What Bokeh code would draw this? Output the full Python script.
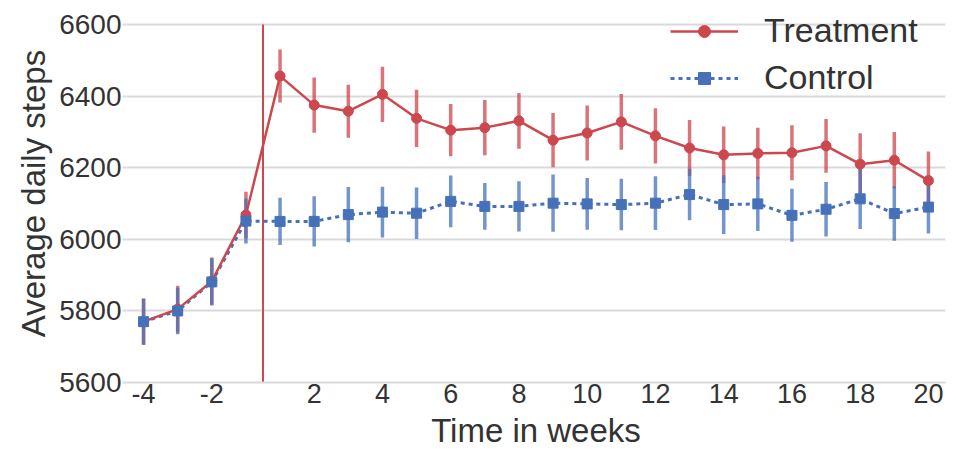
from bokeh.plotting import figure
from bokeh.models import ColumnDataSource, Legend, LegendItem, FixedTicker
from bokeh.embed import file_html
from bokeh.resources import INLINE

# ---- data -------------------------------------------------------------
weeks = [-4, -3, -2, -1, 1, 2, 3, 4, 5, 6, 7, 8, 9, 10, 11, 12, 13, 14, 15, 16, 17, 18, 19, 20]
treatment = [5770, 5805, 5883, 6068, 6456, 6375, 6358, 6405, 6338, 6305, 6312, 6331,
             6277, 6297, 6328, 6289, 6255, 6236, 6240, 6242, 6261, 6210, 6221, 6164]
treatment_err = [65, 65, 66, 65, 74, 77, 74, 77, 80, 73, 77, 78,
                 76, 77, 78, 77, 78, 79, 72, 77, 75, 86, 79, 81]
control = [5770, 5800, 5881, 6051, 6050, 6050, 6069, 6076, 6073, 6106, 6092, 6092,
           6101, 6099, 6097, 6101, 6125, 6097, 6099, 6067, 6084, 6113, 6072, 6090]
control_err = [64, 65, 66, 63, 66, 70, 77, 71, 72, 72, 65, 70,
               80, 72, 72, 75, 72, 82, 76, 74, 76, 84, 76, 74]
tick_weeks = [-4, -2, 2, 4, 6, 8, 10, 12, 14, 16, 18, 20]
y_ticks = [5600, 5800, 6000, 6200, 6400, 6600]

# weeks are equally spaced categories (no week 0)
pos = list(range(len(weeks)))
pos_of = dict(zip(weeks, pos))
intervention = (pos_of[-1] + pos_of[1]) / 2

RED = "#cc474e"
BLUE = "#4671b8"
TEXT = "#333333"
FONT = "Liberation Sans"

src = ColumnDataSource(dict(
    x=pos,
    t=treatment,
    t_lo=[v - e for v, e in zip(treatment, treatment_err)],
    t_hi=[v + e for v, e in zip(treatment, treatment_err)],
    c=control,
    c_lo=[v - e for v, e in zip(control, control_err)],
    c_hi=[v + e for v, e in zip(control, control_err)],
))

# y-range top padded a little so the legend (which sits above the 6600 line) is not clipped
p = figure(width=950, height=451, output_backend="svg", toolbar_location=None,
           x_range=(pos[0] - 0.5, pos[-1] + 0.5), y_range=(y_ticks[0], y_ticks[-1] + 56),
           min_border_left=126, min_border_top=4, min_border_right=5, min_border_bottom=68)
p.outline_line_color = None
p.background_fill_color = "white"

# grid
p.xgrid.grid_line_color = None
p.ygrid.grid_line_color = "#d9d9d9"
p.ygrid.grid_line_width = 2
p.yaxis.ticker = FixedTicker(ticks=y_ticks)

# axes
p.xaxis.ticker = FixedTicker(ticks=[pos_of[w] for w in tick_weeks])
p.xaxis.major_label_overrides = {pos_of[w]: str(w) for w in tick_weeks}
p.xaxis.axis_line_color = "#d9d9d9"
p.xaxis.axis_line_width = 2
p.xaxis.major_tick_line_color = None
p.xaxis.major_tick_out = 0
p.xaxis.major_tick_in = 0
p.xaxis.minor_tick_line_color = None
p.xaxis.major_label_standoff = 1
p.xaxis.axis_label = "Time in weeks"
p.xaxis.axis_label_standoff = 6
p.yaxis.axis_line_color = None
p.yaxis.major_tick_line_color = "#d9d9d9"
p.yaxis.major_tick_line_width = 2
p.yaxis.major_tick_out = 4
p.yaxis.major_tick_in = 0
p.yaxis.minor_tick_line_color = None
p.yaxis.major_label_standoff = 1
p.yaxis.axis_label = "Average daily steps"
p.yaxis.axis_label_standoff = 4
for ax in (p.xaxis, p.yaxis):
    ax.major_label_text_font = FONT
    ax.major_label_text_font_size = "27px"
    ax.major_label_text_color = TEXT
    ax.axis_label_text_font = FONT
    ax.axis_label_text_font_size = "33px"
    ax.axis_label_text_font_style = "normal"
    ax.axis_label_text_color = TEXT
p.yaxis.major_label_text_font_size = "28px"

# intervention line (spans the 5600-6600 band)
p.segment(x0=[intervention], y0=[y_ticks[0]], x1=[intervention], y1=[y_ticks[-1]],
          line_color=RED, line_width=2)

# error bars
p.segment(x0="x", y0="t_lo", x1="x", y1="t_hi", source=src, line_color=RED, line_width=3.5, line_alpha=0.75)
p.segment(x0="x", y0="c_lo", x1="x", y1="c_hi", source=src, line_color=BLUE, line_width=3.5, line_alpha=0.75)

# lines and markers
c_line = p.line("x", "c", source=src, line_color=BLUE, line_width=3, line_dash="4 4")
t_line = p.line("x", "t", source=src, line_color=RED, line_width=2.5)
t_mark = p.scatter("x", "t", source=src, marker="circle", size=10, fill_color=RED, line_color=RED)
c_mark = p.scatter("x", "c", source=src, marker="square", size=10, fill_color=BLUE, line_color=BLUE)

legend = Legend(items=[LegendItem(label="Treatment", renderers=[t_line, t_mark]),
                       LegendItem(label="Control", renderers=[c_line, c_mark])],
                location=(544, 285), border_line_color=None, background_fill_alpha=0,
                label_text_font=FONT, label_text_font_size="34px", label_text_color=TEXT,
                glyph_width=68, glyph_height=30, label_standoff=26, spacing=8, padding=0, margin=0)
p.add_layout(legend)

open("out.html", "w").write(file_html(p, INLINE))
